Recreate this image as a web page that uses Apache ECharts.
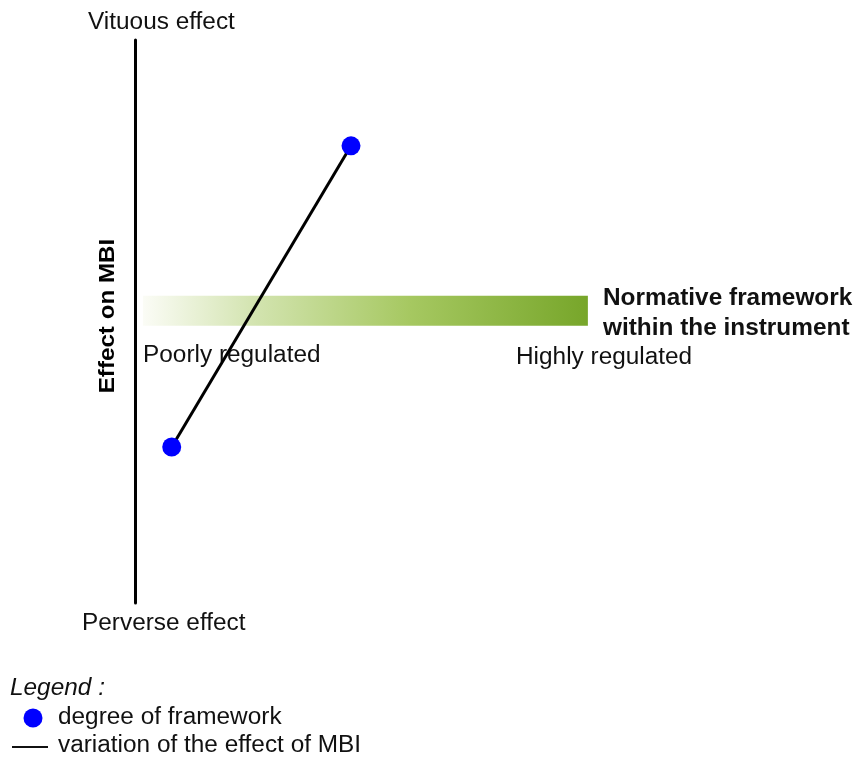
<!DOCTYPE html>
<html>
<head>
<meta charset="utf-8">
<script src="https://cdn.jsdelivr.net/npm/echarts@6/dist/echarts.min.js"></script>
<style>
  html, body { margin: 0; padding: 0; background: #fff; }
  #chart { width: 857px; height: 758px; }
</style>
</head>
<body>
<div id="chart"></div>
<script>
// points (regulation degree, effect on MBI), on a 0-100 scale
var regulation = [5.1, 30.0]
var effect = [27.7, 81.2]
// normative framework bar: start, end, level
var frameworkBar = [[1.1, 62.9, 51.9]]
var seriesNames = ['degree of framework', 'variation of the effect of MBI']

var font = 'Arial, "Liberation Sans", sans-serif'
var chart = echarts.init(document.getElementById('chart'))

// plain text label, slightly stretched like the original drawing
function label(text, x, y, weight) {
  return {
    type: 'text',
    x: x,
    y: y,
    scaleX: 1.06,
    style: { text: text, font: (weight || '') + ' 23px ' + font, fill: '#111' }
  }
}

chart.setOption({
  animation: false,
  grid: { left: 135, right: 2, top: 40, bottom: 155 },
  xAxis: {
    type: 'value',
    min: 0,
    max: 100,
    show: false
  },
  yAxis: {
    type: 'value',
    min: 0,
    max: 100,
    axisLine: { show: true, lineStyle: { color: '#000', width: 3 } },
    axisTick: { show: false },
    axisLabel: { show: false },
    splitLine: { show: false }
  },
  series: [
    {
      type: 'custom',
      name: 'framework',
      silent: true,
      data: frameworkBar,
      renderItem: function(params, api) {
        var start = api.coord([api.value(0), api.value(2)])
        var end = api.coord([api.value(1), api.value(2)])
        var h = 30
        return {
          type: 'rect',
          shape: { x: start[0], y: start[1] - h / 2, width: end[0] - start[0], height: h },
          style: {
            fill: new echarts.graphic.LinearGradient(0, 0, 1, 0, [
              { offset: 0, color: '#fbfcf6' },
              { offset: 0.25, color: '#d3e4b0' },
              { offset: 0.6, color: '#a6c861' },
              { offset: 1, color: '#77a62a' }
            ])
          }
        }
      },
      z: 1
    },
    {
      type: 'line',
      name: seriesNames[0],
      data: regulation.map(function(x, i) { return [x, effect[i]] }),
      symbol: 'circle',
      symbolSize: 19,
      itemStyle: { color: '#0000ff' },
      lineStyle: { color: '#000', width: 3 },
      z: 3
    }
  ],
  graphic: [
    label('Vituous effect', 88, 11),
    label('Perverse effect', 82, 612),
    {
      type: 'text', x: 108, y: 316, rotation: Math.PI / 2, scaleX: 1.1,
      style: { text: 'Effect on MBI', font: 'bold 22px ' + font, fill: '#000', align: 'center', verticalAlign: 'middle' }
    },
    label('Poorly regulated', 143, 344),
    label('Highly regulated', 516, 346),
    label('Normative framework', 603, 287, 'bold'),
    label('within the instrument', 603, 317, 'bold'),
    // legend
    label('Legend :', 10, 677, 'italic'),
    { type: 'circle', shape: { cx: 33, cy: 718, r: 9.5 }, style: { fill: '#0000ff' } },
    label(seriesNames[0], 58, 706),
    { type: 'line', shape: { x1: 12, y1: 747, x2: 48, y2: 747 }, style: { stroke: '#111', lineWidth: 2 } },
    label(seriesNames[1], 58, 734)
  ]
})
</script>
</body>
</html>
